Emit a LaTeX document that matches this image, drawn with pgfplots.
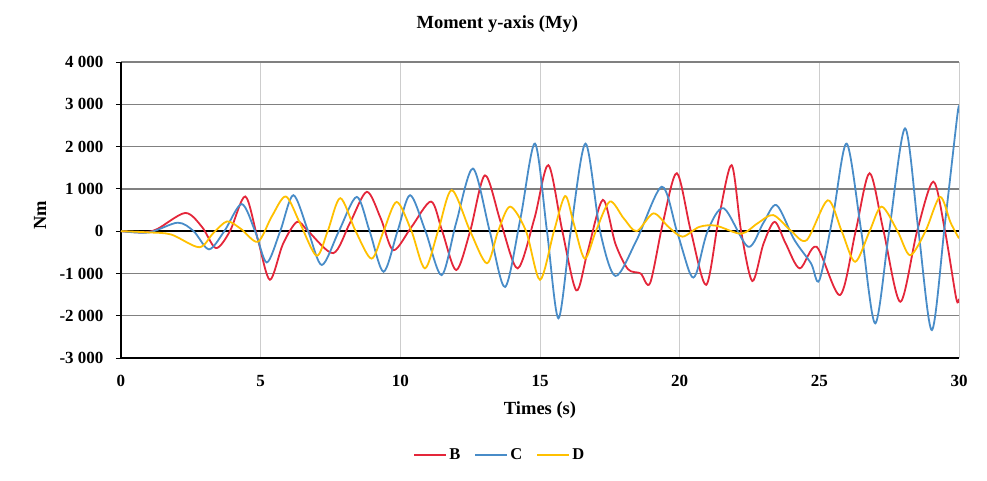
\documentclass[border=0pt]{standalone}
\usepackage{fontspec}
\setmainfont{Liberation Serif}
\usepackage{pgfplots}
\pgfplotsset{compat=1.18}
\definecolor{cB}{RGB}{228,38,58}
\definecolor{cC}{RGB}{72,140,200}
\definecolor{cD}{RGB}{255,192,0}
\definecolor{gridH}{RGB}{128,128,128}
\definecolor{gridV}{RGB}{205,205,205}
\begin{document}
\begin{tikzpicture}
\useasboundingbox (-121pt,-122pt) rectangle (866pt,358pt);
\begin{axis}[
  at={(0,0)}, anchor=south west,
  scale only axis, width=838pt, height=296pt,
  xmin=0, xmax=30, ymin=-3000, ymax=4000,
  xtick={0,5,...,30}, ytick={-3000,-2000,...,4000},
  axis lines*=left, axis line style={-, black, line width=1.2pt},
  grid=major,
  x grid style={gridV, line width=0.8pt},
  y grid style={gridH, line width=1.3pt},
  xtick style={draw=none},
  ytick style={black, line width=1pt},
  tick align=outside, major tick length=5pt,
  /pgf/number format/assume math mode=true,
  /pgf/number format/.cd, 1000 sep={\ }, /pgfplots/.cd,
  ticklabel style={font=\bfseries\fontsize{17}{19}\selectfont},
  yticklabel style={xshift=-9pt},
  xticklabel style={yshift=-9pt},
  title={Moment y-axis (My)},
  title style={font=\bfseries\fontsize{18.5}{20}\selectfont, at={(0.449,1.108)}, anchor=center},
  xlabel={Times (s)},
  xlabel style={font=\bfseries\fontsize{18.5}{20}\selectfont, at={(0.5,-0.176)}, anchor=center},
  ylabel={Nm},
  ylabel style={font=\bfseries\fontsize{18.5}{20}\selectfont, at={(-0.0967,0.483)}, anchor=center},
  legend style={at={(0.452,-0.328)}, anchor=center, draw=none, legend columns=3,
    font=\bfseries\fontsize{16.5}{18}\selectfont,
    /tikz/every even column/.append style={column sep=12pt}},
  legend image code/.code={\draw[#1, line width=2pt] (0pt,0pt) -- (32pt,0pt);},
  clip=true,
]
\addplot[black, line width=2.6pt, forget plot] coordinates {(0,0) (30,0)};
\addplot[cB, line width=1.8pt, smooth] coordinates {
(0,0) (0.8,-30) (1.3,50) (2.3,430) (2.9,100) (3.4,-400) (3.9,0) (4.45,820) (4.9,-200) (5.33,-1150) (5.8,-300) (6.3,220) (6.7,0) (7.6,-520) (8.2,200) (8.8,930) (9.3,300) (9.75,-450) (10.4,100) (11.1,700) (11.5,0) (12.0,-920) (12.5,0) (13.03,1320) (13.6,200) (14.2,-880) (14.8,300) (15.3,1560) (15.8,0) (16.3,-1400) (16.7,-500) (17.25,740) (17.7,-300) (18.15,-900) (18.6,-1000) (18.94,-1230) (19.4,200) (19.9,1370) (20.4,0) (20.95,-1270) (21.4,300) (21.86,1560) (22.2,0) (22.6,-1180) (23.0,-300) (23.4,220) (23.8,-300) (24.3,-880) (24.9,-370) (25.74,-1510) (26.3,0) (26.8,1370) (27.3,0) (27.9,-1670) (28.5,0) (29.08,1170) (29.5,0) (29.9,-1590) (30,-1600)
};
\addlegendentry{B}
\addplot[cC, line width=1.8pt, smooth] coordinates {
(0,0) (1,-30) (2.03,200) (2.6,0) (3.15,-430) (3.7,0) (4.32,640) (4.8,0) (5.22,-740) (5.7,0) (6.17,850) (6.7,0) (7.19,-800) (7.8,0) (8.44,810) (8.9,0) (9.4,-960) (9.9,0) (10.35,850) (10.9,0) (11.48,-1040) (12.0,200) (12.6,1480) (13.2,0) (13.75,-1320) (14.3,300) (14.82,2070) (15.25,0) (15.66,-2060) (16.1,0) (16.63,2070) (17.15,0) (17.7,-1060) (18.46,-210) (19.36,1050) (19.9,0) (20.37,-1000) (20.6,-990) (21.0,0) (21.58,540) (22.45,-370) (23.0,200) (23.47,615) (24.1,-200) (24.7,-760) (25.0,-1160) (25.5,400) (25.98,2070) (26.5,0) (27.0,-2180) (27.5,0) (28.07,2430) (28.55,0) (29.03,-2340) (29.5,200) (29.95,2790) (30,2800)
};
\addlegendentry{C}
\addplot[cD, line width=1.8pt, smooth] coordinates {
(0,0) (1,-30) (1.8,-80) (2.8,-380) (3.3,-50) (3.8,230) (4.3,50) (4.9,-250) (5.4,350) (5.9,820) (6.4,200) (7.0,-580) (7.4,0) (7.85,780) (8.4,0) (8.97,-650) (9.4,0) (9.87,690) (10.4,0) (10.88,-880) (11.35,0) (11.84,970) (12.5,0) (13.1,-760) (13.5,0) (13.93,580) (14.5,0) (15.0,-1150) (15.5,0) (15.9,830) (16.2,200) (16.6,-650) (17.0,0) (17.5,700) (18.0,300) (18.46,0) (19.06,420) (19.6,100) (20.1,-130) (20.7,100) (21.3,130) (22.2,-60) (22.8,190) (23.35,380) (24.0,0) (24.55,-210) (25.3,730) (25.8,0) (26.28,-725) (26.8,0) (27.23,580) (27.8,0) (28.25,-570) (28.8,0) (29.32,810) (29.7,200) (30,-170)
};
\addlegendentry{D}
\end{axis}
\end{tikzpicture}
\end{document}
